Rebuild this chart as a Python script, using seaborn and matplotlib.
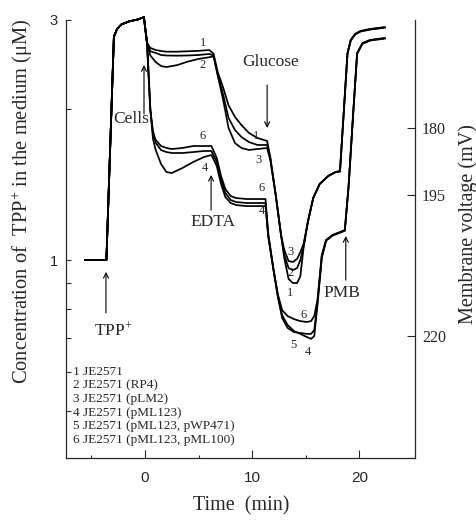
import matplotlib
matplotlib.use("Agg")
import matplotlib.pyplot as plt
import seaborn as sns
import pandas as pd
from matplotlib.ticker import FixedLocator, FixedFormatter, NullFormatter, NullLocator

# ---------------- data ----------------
time_upper = [-5.6, -3.6, -2.9, -2.6, -2.2, -1.5, -0.6, -0.1, 0.2, 0.5, 1.0, 1.5, 2.0,
              3.0, 4.0, 5.0, 6.0, 6.4, 6.8, 7.3, 7.8, 8.4, 9.0, 9.7, 10.5, 11.4, 11.7,
              12.2, 12.7, 13.0, 13.4, 13.8, 14.2, 14.5, 14.8, 15.2, 15.7, 16.3, 17.1,
              17.8, 18.2, 18.9, 19.2, 19.6, 20.1, 21.0, 22.4]
strain1 = [1.0, 1.0, 2.78, 2.88, 2.94, 2.98, 3.01, 3.04,
           2.70, 2.64, 2.615, 2.603, 2.595, 2.595, 2.60, 2.605, 2.615,
           2.57, 2.36, 2.20, 2.03, 1.925, 1.855, 1.789, 1.748, 1.724,
           1.60, 1.347, 1.121, 1.009, 0.917, 0.900, 0.900, 0.929, 1.057, 1.19, 1.328,
           1.416, 1.469, 1.496, 1.503,
           2.58, 2.738, 2.814, 2.853, 2.879, 2.905]
strain2 = [1.0, 1.0, 2.78, 2.88, 2.94, 2.98, 3.01, 3.04,
           2.70, 2.55, 2.475, 2.43, 2.419, 2.44, 2.48, 2.51, 2.53,
           2.54, 2.33, 2.13, 1.916, 1.813, 1.756, 1.716, 1.693, 1.693,
           1.59, 1.347, 1.121, 1.023, 0.964, 0.955, 0.964, 1.0, 1.066, 1.19, 1.328,
           1.416, 1.469, 1.496, 1.50,
           2.575, 2.733, 2.81, 2.849, 2.875, 2.90]
strain3 = [1.0, 1.0, 2.78, 2.88, 2.94, 2.98, 3.01, 3.04,
           2.70, 2.60, 2.58, 2.556, 2.55, 2.548, 2.55, 2.556, 2.568,
           2.55, 2.32, 2.08, 1.83, 1.708, 1.67, 1.655, 1.662, 1.670,
           1.58, 1.347, 1.121, 1.047, 0.995, 0.991, 1.005, 1.037, 1.076, 1.19, 1.328,
           1.416, 1.469, 1.496, 1.50,
           2.57, 2.728, 2.806, 2.845, 2.871, 2.896]

time_lower = [-5.6, -3.6, -2.9, -2.6, -2.2, -1.5, -0.6, -0.1, 0.2, 0.5, 0.75, 1.0, 1.5,
              2.0, 2.5, 3.5, 4.5, 5.5, 6.2, 6.7, 7.1, 7.5, 8.0, 8.5, 9.5, 11.25, 11.5,
              12.0, 12.4, 12.8, 13.3, 13.9, 14.5, 15.1, 15.5, 15.8, 16.1, 16.5, 16.9,
              17.5, 18.2, 18.65, 19.0, 19.4, 19.8, 20.3, 21.0, 22.4]
strain6 = [1.0, 1.0, 2.78, 2.88, 2.94, 2.98, 3.01, 3.04,
           2.68, 1.99, 1.80, 1.732, 1.685, 1.67, 1.662, 1.67, 1.685, 1.685, 1.685,
           1.595, 1.469, 1.384, 1.340, 1.328, 1.322, 1.322,
           1.13, 0.955, 0.855, 0.795, 0.774, 0.763, 0.756, 0.753, 0.756, 0.774, 0.833, 1.023,
           1.096, 1.121, 1.137, 1.147, 1.403, 1.916, 2.58, 2.70, 2.738, 2.763]
strain5 = [1.0, 1.0, 2.78, 2.88, 2.94, 2.98, 3.01, 3.04,
           2.68, 1.99, 1.77, 1.71, 1.654, 1.639, 1.632, 1.632, 1.639, 1.647, 1.647,
           1.566, 1.442, 1.359, 1.316, 1.304, 1.298, 1.298,
           1.12, 0.955, 0.845, 0.767, 0.733, 0.719, 0.716, 0.713, 0.713, 0.726, 0.825, 1.016,
           1.094, 1.12, 1.135, 1.145, 1.40, 1.91, 2.575, 2.695, 2.735, 2.76]
strain4 = [1.0, 1.0, 2.78, 2.88, 2.94, 2.98, 3.01, 3.04,
           2.68, 1.99, 1.74, 1.654, 1.552, 1.496, 1.489, 1.524, 1.566, 1.602, 1.617,
           1.538, 1.416, 1.334, 1.298, 1.286, 1.280, 1.280,
           1.115, 0.955, 0.848, 0.777, 0.743, 0.7225, 0.713, 0.703, 0.697, 0.706, 0.814, 1.009,
           1.092, 1.118, 1.133, 1.143, 1.395, 1.905, 2.57, 2.69, 2.73, 2.755]

legend_entries = ["1 JE2571", "2 JE2571 (RP4)", "3 JE2571 (pLM2)", "4 JE2571 (pML123)",
                  "5 JE2571 (pML123, pWP471)", "6 JE2571 (pML123, pML100)"]
x_major_ticks = [0, 10, 20]
x_minor_ticks = [-5, 5, 15]
y_major_ticks = [1, 2, 3]
y_major_labels = ["1", "", "3"]
y_minor_ticks = [0.5, 0.6, 0.7, 0.8, 0.9]
voltage_labels = ["180", "195", "220"]
voltage_tick_conc = [1.83, 1.346, 0.706]

# ---------------- build long table ----------------
frames = []
for name, t, v in [("1", time_upper, strain1), ("2", time_upper, strain2),
                   ("3", time_upper, strain3), ("4", time_lower, strain4),
                   ("5", time_lower, strain5), ("6", time_lower, strain6)]:
    frames.append(pd.DataFrame({"time": t, "conc": v, "curve": name}))
df = pd.concat(frames, ignore_index=True)

# ---------------- style ----------------
sns.set_style("ticks")
plt.rcParams["font.family"] = ["Liberation Serif", "DejaVu Serif"]
plt.rcParams["mathtext.fontset"] = "custom"
plt.rcParams["mathtext.rm"] = "Liberation Serif"
plt.rcParams["mathtext.it"] = "Liberation Serif:italic"
plt.rcParams["mathtext.bf"] = "Liberation Serif:bold"

fig = plt.figure(figsize=(4.77, 5.20), dpi=100)
ax = fig.add_axes([66 / 477, 62 / 520, 349 / 477, 438 / 520])

sns.lineplot(data=df, x="time", y="conc", units="curve", estimator=None, sort=False,
             color="black", lw=1.25, ax=ax, legend=False)
for ln in ax.lines:
    ln.set_clip_on(False)
    ln.set_solid_joinstyle("round")

ax.set_yscale("log")
ax.set_xlim(-7.37, 25.2)
ax.set_ylim(0.404, 3.0)

ax.xaxis.set_major_locator(FixedLocator(x_major_ticks))
ax.xaxis.set_minor_locator(FixedLocator(x_minor_ticks))
ax.xaxis.set_major_formatter(FixedFormatter([str(v) for v in x_major_ticks]))
ax.xaxis.set_minor_formatter(NullFormatter())
ax.yaxis.set_major_locator(FixedLocator(y_major_ticks))
ax.yaxis.set_major_formatter(FixedFormatter(y_major_labels))
ax.yaxis.set_minor_locator(FixedLocator(y_minor_ticks))
ax.yaxis.set_minor_formatter(NullFormatter())

ax.tick_params(axis="x", which="major", direction="in", length=6, width=0.8, pad=9,
               labelsize=11, labelfontfamily="Liberation Sans")
ax.tick_params(axis="x", which="minor", direction="in", length=2.2, width=0.8)
ax.tick_params(axis="y", which="both", direction="in", length=3.5, width=0.8, pad=6,
               labelsize=10.5, labelfontfamily="Liberation Sans")

for s in ["top", "right"]:
    ax.spines[s].set_visible(False)
for s in ["left", "bottom"]:
    ax.spines[s].set_linewidth(0.9)

ax.set_xlabel("Time  (min)", fontsize=14.5)
ax.xaxis.set_label_coords(0.501, -0.088)
ax.set_ylabel("Concentration of  TPP$^{+}$ in the medium (μM)", fontsize=14.8)
ax.yaxis.set_label_coords(-0.09, 0.585)

# right axis: membrane voltage
tw = ax.twinx()
tw.set_yscale("log")
tw.set_ylim(ax.get_ylim())
tw.yaxis.set_major_locator(FixedLocator(voltage_tick_conc))
tw.yaxis.set_major_formatter(FixedFormatter(voltage_labels))
tw.yaxis.set_minor_locator(NullLocator())
tw.tick_params(axis="y", direction="in", length=6, width=0.8, pad=5, labelsize=11.5)
for s in ["top", "left", "bottom"]:
    tw.spines[s].set_visible(False)
tw.spines["right"].set_linewidth(0.9)
tw.set_ylabel("Membrane voltage (mV)", fontsize=14.5)
tw.yaxis.set_label_coords(1.123, 0.534)

# ---------------- annotations ----------------
arrow_kw = dict(arrowstyle="->", color="black", lw=0.8, shrinkA=0, shrinkB=0,
                mutation_scale=9)
events = [  # label, arrow tip, arrow tail, text position
    ("TPP$^{+}$", (-3.64, 0.947), (-3.64, 0.785), (-3.0, 0.726)),
    ("Cells", (-0.09, 2.44), (-0.09, 1.95), (-1.3, 1.907)),
    ("Glucose", (11.4, 1.83), (11.4, 2.228), (11.68, 2.475)),
    ("EDTA", (6.17, 1.476), (6.17, 1.257), (6.36, 1.19)),
    ("PMB", (18.74, 1.116), (18.74, 0.912), (18.41, 0.86)),
]
for lab, tip, tail, tpos in events:
    ax.annotate("", xy=tip, xytext=tail, arrowprops=arrow_kw, annotation_clip=False)
    ax.text(tpos[0], tpos[1], lab, fontsize=12.5, ha="center", va="center")

curve_labels = [
    ("1", 5.42, 2.70), ("2", 5.33, 2.441), ("6", 5.42, 1.764), ("4", 5.61, 1.524),
    ("1", 10.37, 1.764), ("3", 10.56, 1.581), ("6", 10.84, 1.39), ("4", 10.93, 1.251),
    ("3", 13.55, 1.037), ("2", 13.55, 0.942), ("1", 13.55, 0.86),
    ("6", 14.77, 0.777), ("5", 13.83, 0.678), ("4", 15.23, 0.656),
]
for lab, x, y in curve_labels:
    ax.text(x, y, lab, fontsize=9, ha="center", va="center")

for i, entry in enumerate(legend_entries):
    ax.text(0.02, 0.196 - i * 0.0308, entry, transform=ax.transAxes, fontsize=9.5,
            ha="left", va="center")

fig.savefig("out.png", dpi=100)
